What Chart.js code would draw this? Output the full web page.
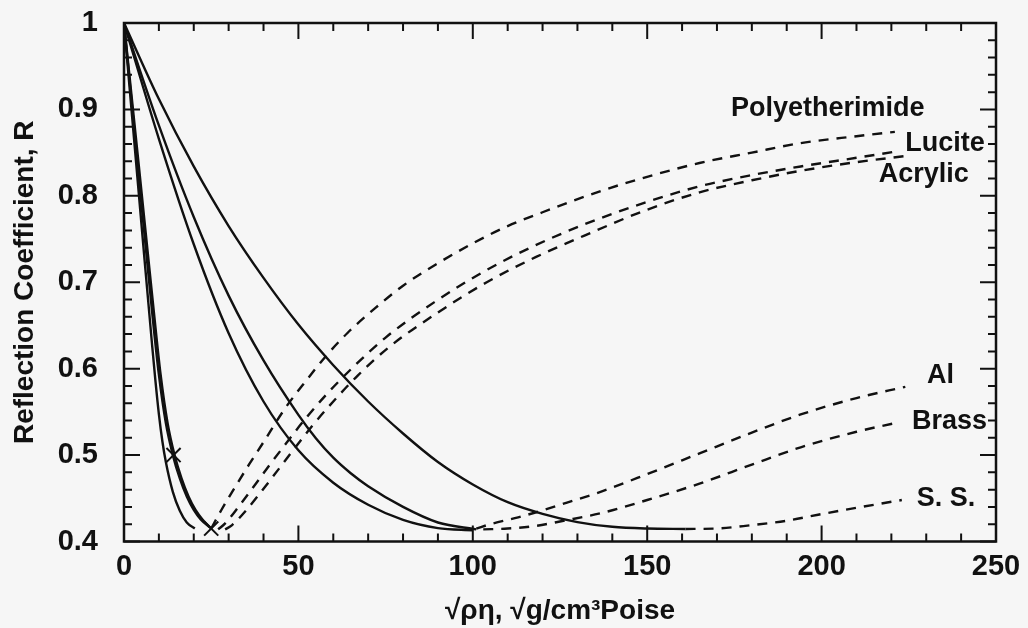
<!DOCTYPE html>
<html>
<head>
<meta charset="utf-8">
<script src="https://cdn.jsdelivr.net/npm/chart.js@4.4.1/dist/chart.umd.min.js"></script>
<style>
  body { margin: 0; background: #f6f6f6; }
</style>
</head>
<body>
<canvas id="grafico" width="1028" height="628"></canvas>
<script>
// solid branches, from R = 1 down to the minimum
const solidInnerX = [0, 6, 8, 9, 10, 11, 12, 14, 16, 18, 20.3];
const solidInnerY = [1, 0.721, 0.63, 0.5865, 0.5475, 0.516, 0.492, 0.4575, 0.4355, 0.422, 0.415];

const solidSteepAX = [0, 4, 8, 10, 12, 14, 16, 18, 20, 22, 24.7];
const solidSteepAY = [1, 0.833, 0.668, 0.593, 0.537, 0.5, 0.473, 0.452, 0.4365, 0.4255, 0.416];

const solidSteepBX = [0, 4.3, 8.5, 10.5, 12.5, 14.5, 16.5, 18.5, 20.5, 22.5, 25];
const solidSteepBY = [1, 0.833, 0.668, 0.593, 0.537, 0.5, 0.473, 0.452, 0.4365, 0.4255, 0.415];

const solidMidAX = [0, 10, 20, 30, 40, 50, 60, 70, 80, 90, 100];
const solidMidAY = [1, 0.866, 0.744, 0.641, 0.562, 0.5055, 0.468, 0.4425, 0.425, 0.4155, 0.413];

const solidMidBX = [0, 10, 20, 30, 40, 50, 55, 60, 65, 70, 80, 90, 101];
const solidMidBY = [1, 0.8815, 0.7755, 0.6845, 0.6095, 0.5465, 0.5195, 0.497, 0.479, 0.464, 0.44, 0.422, 0.414];

const solidOuterX = [0, 10, 20, 30, 40, 50, 60, 70, 80, 90, 100, 110, 120, 130, 140, 150, 161];
const solidOuterY = [1, 0.912, 0.834, 0.765, 0.705, 0.651, 0.604, 0.562, 0.525, 0.492, 0.466, 0.4455, 0.432, 0.4225, 0.417, 0.415, 0.4145];

// dashed branches, from the minimum up to the material
const peiX = [25, 28, 32, 36, 40, 46, 52, 58, 64, 72, 80, 90, 100, 110, 120, 137, 150, 165, 180, 194, 210, 221];
const peiY = [0.415, 0.437, 0.464, 0.49, 0.515, 0.553, 0.585, 0.615, 0.641, 0.67, 0.696, 0.722, 0.745, 0.765, 0.781, 0.806, 0.822, 0.838, 0.85, 0.861, 0.869, 0.874];

const luciteX = [27, 29, 33, 38, 42, 46, 52, 58, 66, 75, 89, 103, 117, 132, 150, 165, 180, 194, 210, 221];
const luciteY = [0.414, 0.421, 0.441, 0.468, 0.49, 0.511, 0.542, 0.57, 0.603, 0.636, 0.677, 0.712, 0.741, 0.767, 0.793, 0.811, 0.824, 0.834, 0.844, 0.851];

const acrylicX = [29, 31, 35, 40, 44, 48, 54, 60, 67, 76, 90, 104, 118, 132, 150, 165, 180, 194, 210, 224];
const acrylicY = [0.414, 0.419, 0.436, 0.461, 0.482, 0.503, 0.534, 0.562, 0.592, 0.625, 0.665, 0.7, 0.729, 0.754, 0.784, 0.804, 0.818, 0.829, 0.839, 0.846];

const alX = [101, 105, 113, 120, 127, 137, 150, 165, 180, 194, 210, 224];
const alY = [0.415, 0.42, 0.428, 0.436, 0.445, 0.458, 0.478, 0.502, 0.526, 0.547, 0.566, 0.579];

const brassX = [103, 110, 118, 126, 137, 150, 165, 180, 194, 210, 221];
const brassY = [0.414, 0.415, 0.418, 0.424, 0.433, 0.448, 0.467, 0.489, 0.509, 0.527, 0.537];

const ssX = [161, 170, 180, 190, 199, 210, 223];
const ssY = [0.4145, 0.415, 0.419, 0.424, 0.431, 0.439, 0.448];

// x marks
const markX = [14.2, 25];
const markY = [0.5, 0.415];

// curve labels
const materialNames = ["Polyetherimide", "Lucite", "Acrylic", "Al", "Brass", "S. S."];
const materialLabelX = [174, 224, 216.4, 230.2, 225.9, 227.3];
const materialLabelY = [0.892, 0.852, 0.816, 0.583, 0.53, 0.441];

const pontos = (xs, ys) => xs.map((x, i) => ({ x: x, y: ys[i] }));

const linha = (xs, ys, tracejada) => ({
  data: pontos(xs, ys),
  borderColor: "#111",
  borderWidth: 2.4,
  borderDash: tracejada ? [10, 8] : [],
  pointRadius: 0,
  fill: false,
  cubicInterpolationMode: "monotone",
});

const fonte = "'Liberation Sans', Arial, sans-serif";

// box with inward ticks on all four sides
const moldura = {
  id: "moldura",
  afterDatasetsDraw(chart) {
    const { ctx, chartArea: a } = chart;
    const sx = chart.scales.x;
    const sy = chart.scales.y;
    ctx.save();
    ctx.strokeStyle = "#111";
    ctx.lineWidth = 2.5;
    ctx.strokeRect(a.left, a.top, a.right - a.left, a.bottom - a.top);
    ctx.lineWidth = 2;
    ctx.beginPath();
    for (let v = 0; v <= 250; v += 10) {
      const px = sx.getPixelForValue(v);
      const len = v % 50 === 0 ? 16 : 8;
      ctx.moveTo(px, a.bottom);
      ctx.lineTo(px, a.bottom - len);
      ctx.moveTo(px, a.top);
      ctx.lineTo(px, a.top + len);
    }
    for (let i = 0; i <= 30; i++) {
      const py = sy.getPixelForValue(0.4 + i * 0.02);
      const len = i % 5 === 0 ? 16 : 8;
      ctx.moveTo(a.left, py);
      ctx.lineTo(a.left + len, py);
      ctx.moveTo(a.right, py);
      ctx.lineTo(a.right - len, py);
    }
    ctx.stroke();

    // material names
    ctx.fillStyle = "#111";
    ctx.font = "bold 27px " + fonte;
    ctx.textAlign = "left";
    ctx.textBaseline = "alphabetic";
    materialNames.forEach((nome, i) => {
      ctx.fillText(
        nome,
        sx.getPixelForValue(materialLabelX[i]),
        sy.getPixelForValue(materialLabelY[i]),
      );
    });
    ctx.restore();
  },
};

const grafico = new Chart(document.getElementById("grafico"), {
  type: "line",
  data: {
    datasets: [
      linha(solidInnerX, solidInnerY, false),
      linha(solidSteepAX, solidSteepAY, false),
      linha(solidSteepBX, solidSteepBY, false),
      linha(solidMidAX, solidMidAY, false),
      linha(solidMidBX, solidMidBY, false),
      linha(solidOuterX, solidOuterY, false),
      linha(peiX, peiY, true),
      linha(luciteX, luciteY, true),
      linha(acrylicX, acrylicY, true),
      linha(alX, alY, true),
      linha(brassX, brassY, true),
      linha(ssX, ssY, true),
      {
        data: pontos(markX, markY),
        showLine: false,
        pointStyle: "crossRot",
        pointRadius: 10,
        borderColor: "#111",
        borderWidth: 2,
      },
    ],
  },
  options: {
    responsive: false,
    devicePixelRatio: 1,
    animation: false,
    layout: {
      padding: { top: 23, right: 32, bottom: 0, left: 0 },
    },
    plugins: {
      legend: { display: false },
      tooltip: { enabled: false },
    },
    scales: {
      x: {
        type: "linear",
        min: 0,
        max: 250,
        grid: { display: false, drawTicks: false },
        border: { display: false },
        ticks: {
          stepSize: 50,
          padding: 8,
          color: "#111",
          font: { family: fonte, size: 29, weight: "bold" },
        },
        title: {
          display: true,
          text: "√ρη, √g/cm³Poise",
          color: "#111",
          padding: 0,
          font: { family: fonte, size: 28, weight: "bold" },
        },
        afterFit: (escala) => {
          escala.height = 86.5;
          escala.paddingLeft = 0;
          escala.paddingRight = 0;
        },
      },
      y: {
        min: 0.4,
        max: 1,
        grid: { display: false, drawTicks: false },
        border: { display: false },
        ticks: {
          stepSize: 0.1,
          padding: 26,
          color: "#111",
          font: { family: fonte, size: 29, weight: "bold" },
          callback: (valor) => String(Number(valor.toFixed(1))),
        },
        title: {
          display: true,
          text: "Reflection Coefficient, R",
          color: "#111",
          padding: { top: 8, bottom: 0 },
          font: { family: fonte, size: 28, weight: "bold" },
        },
        afterFit: (escala) => {
          escala.width = 124;
          escala.paddingTop = 0;
          escala.paddingBottom = 0;
        },
      },
    },
  },
  plugins: [moldura],
});
</script>
</body>
</html>
